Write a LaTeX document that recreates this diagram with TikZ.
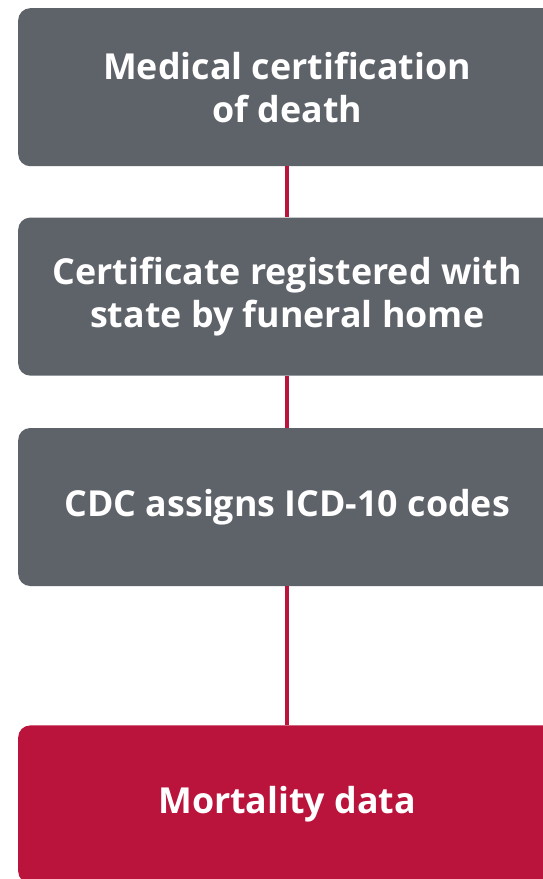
\documentclass[tikz,border=0pt]{standalone}
\usepackage{fontspec}
\setmainfont{Open Sans}
\usepackage{tikz}
\usetikzlibrary{positioning}

\definecolor{boxgray}{HTML}{5E6269}
\definecolor{crimson}{HTML}{BA133C}

\begin{document}
\begin{tikzpicture}[x=1pt,y=1pt,
	stagebox/.style={rectangle, rounded corners=12pt, fill=boxgray, text=white,
		minimum width=538pt, minimum height=158pt, inner sep=0pt, align=center,
		font=\bfseries\fontsize{35.8}{43}\selectfont},
	endbox/.style={stagebox, fill=crimson},
	link/.style={crimson, line width=4pt},
	node distance=51pt]
	
	\useasboundingbox (0,0) rectangle (543,-879);
	
	\node[stagebox, anchor=north west] (cert) at (18,-8) {Medical certification\\of death};
	\node[stagebox, below=of cert] (reg) {Certificate registered with\\state by funeral home};
	\node[stagebox, below=52pt of reg] (icd) {CDC assigns ICD-10 codes};
	\node[endbox, below=139pt of icd] (data) {Mortality data};
	
	\draw[link] (cert) -- (reg);
	\draw[link] (reg) -- (icd);
	\draw[link] (icd) -- (data);
	
\end{tikzpicture}
\end{document}
